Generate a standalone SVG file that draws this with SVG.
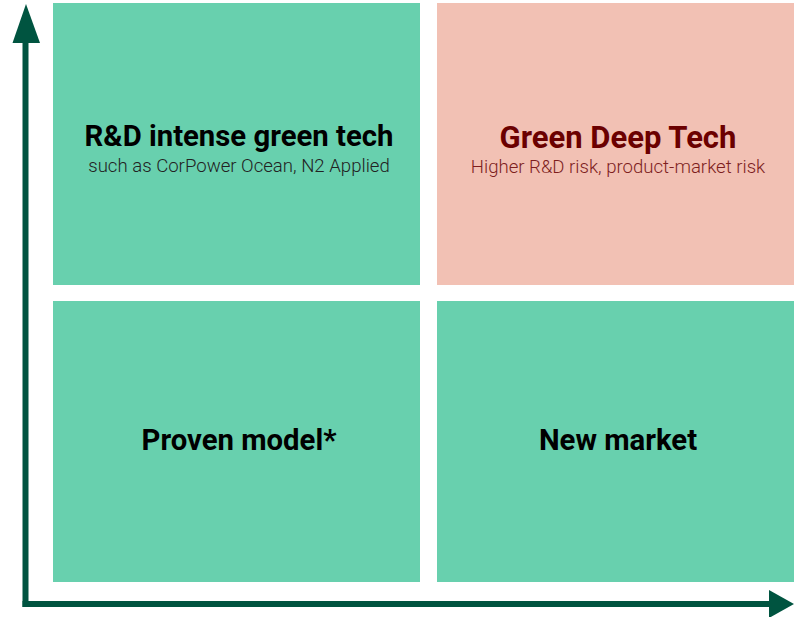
<svg xmlns="http://www.w3.org/2000/svg" width="794" height="617" viewBox="0 0 794 617">
<style>
.g{fill:#68D0AE}
.p{fill:#F2C1B4}
.t{font-family:Roboto,"Liberation Sans",sans-serif;font-weight:bold;font-size:29.3px;text-anchor:middle}
.s{font-family:Roboto,"Liberation Sans",sans-serif;font-weight:300;font-size:18.6px;text-anchor:middle}
</style>
<rect width="794" height="617" fill="#fff"/>
<g id="rd">
<rect class="g" x="53" y="3" width="367" height="282"/>
<text class="t" x="239" y="146" fill="#000">R&amp;D intense green tech</text>
<text class="s" x="239" y="172" fill="#222">such as CorPower Ocean, N2 Applied</text>
</g>
<g id="deep">
<rect class="p" x="437" y="3" width="357" height="282"/>
<text class="t" x="618" y="148" fill="#6B0000" style="font-size:31px">Green Deep Tech</text>
<text class="s" x="618" y="173" fill="#7E1E1E">Higher R&amp;D risk, product-market risk</text>
</g>
<g id="proven">
<rect class="g" x="53" y="301" width="367" height="281"/>
<text class="t" x="239" y="450" fill="#000">Proven model*</text>
</g>
<g id="newmarket">
<rect class="g" x="437" y="301" width="357" height="281"/>
<text class="t" x="618" y="450" fill="#000">New market</text>
</g>
<g id="axes" fill="#005440" stroke="none">
<rect x="22.5" y="40" width="6" height="567"/>
<rect x="22.5" y="601" width="750" height="6"/>
<polygon points="26,4 12.5,43 40,43"/>
<polygon points="794,604 769,590 769,618"/>
</g>
</svg>
